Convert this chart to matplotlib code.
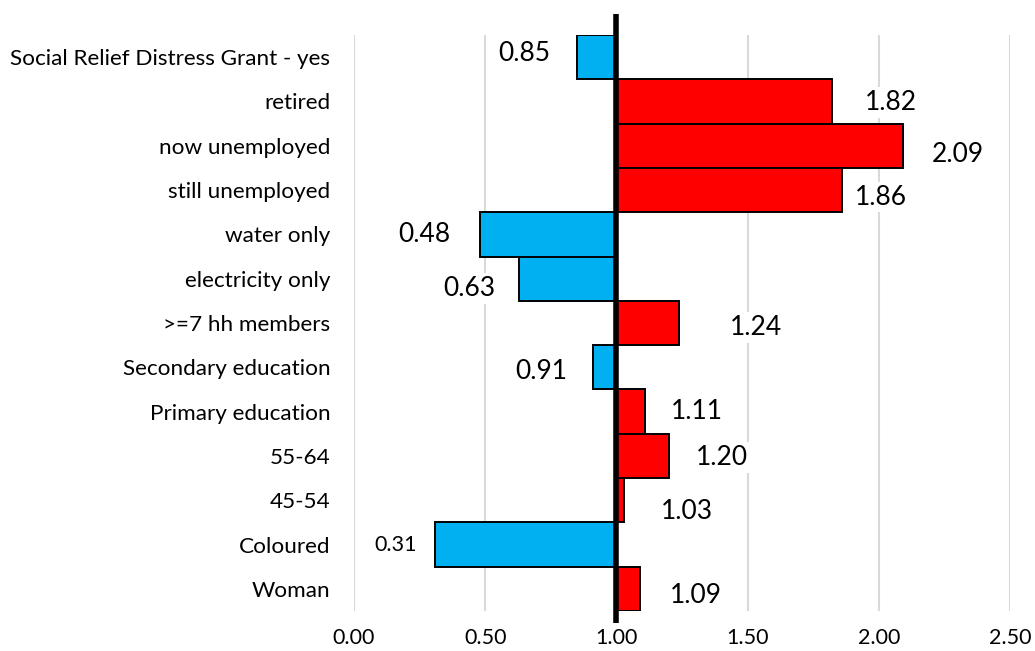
import numpy as np
import matplotlib.pyplot as plt

plt.rcParams['font.family'] = ['Lato', 'DejaVu Sans']

# ------------------------------
# datos (odds ratios)
# ------------------------------
categorias = ["Social Relief Distress Grant - yes", "retired", "now unemployed",
              "still unemployed", "water only", "electricity only", ">=7 hh members",
              "Secondary education", "Primary education", "55-64", "45-54",
              "Coloured", "Woman"]
valores = [0.85, 1.82, 2.09, 1.86, 0.48, 0.63, 1.24, 0.91, 1.11, 1.20, 1.03, 0.31, 1.09]
ticks_x = [0.0, 0.5, 1.0, 1.5, 2.0, 2.5]

# desplazamiento de cada etiqueta respecto al extremo de la barra (puntos)
offs_x = [-38, 43, 40, 28, -40, -36, 55, -37, 37, 38, 45, 0, 40]
offs_y = [3, -1, -6, -5, 0, -7, -3, -3, 0, -1, -8, 3, -5]

AZUL = "#00B0F0"
ROJO = "#FF0000"
BASE = 1.0

fig = plt.figure(figsize=(10.35, 6.51), dpi=100)
ax = fig.add_axes([0.342, 0.0614, 0.634, 0.8848])

y = np.arange(len(categorias))
v = np.array(valores)
colores = [AZUL if x < BASE else ROJO for x in v]
ax.barh(y, v - BASE, left=BASE, height=1.0, color=colores,
        edgecolor="black", linewidth=1.4, zorder=3)

ax.set_xlim(0, 2.5)
ax.set_ylim(len(categorias) - 0.5, -0.5)
ax.set_xticks(ticks_x)
ax.set_xticklabels([f"{t:.2f}" for t in ticks_x], fontsize=15.5)
ax.set_yticks(y)
ax.set_yticklabels(categorias, fontsize=16.2)
ax.tick_params(length=0, pad=17)
ax.tick_params(axis="x", pad=12)
for s in ax.spines.values():
    s.set_visible(False)
ax.grid(axis="x", color="#d9d9d9", linewidth=1.5, zorder=0)

# linea de referencia en 1.0
ax.plot([BASE, BASE], [-0.98, len(categorias) - 0.22], color="black",
        linewidth=4, clip_on=False, zorder=5, solid_capstyle="butt")

# etiquetas de datos
for i, val in enumerate(valores):
    if val == 0.31:
        ax.annotate(f"{val:.2f}", (0, i), xytext=(30, 0), textcoords="offset points",
                    ha="center", va="center", fontsize=15.5,
                    bbox=dict(facecolor="white", edgecolor="none", pad=2), zorder=4)
        continue
    ax.annotate(f"{val:.2f}", (val, i), xytext=(offs_x[i], offs_y[i]),
                textcoords="offset points", ha="center", va="center", fontsize=19,
                bbox=dict(facecolor="white", edgecolor="none", pad=2), zorder=4)

fig.savefig("out.png", dpi=100)
